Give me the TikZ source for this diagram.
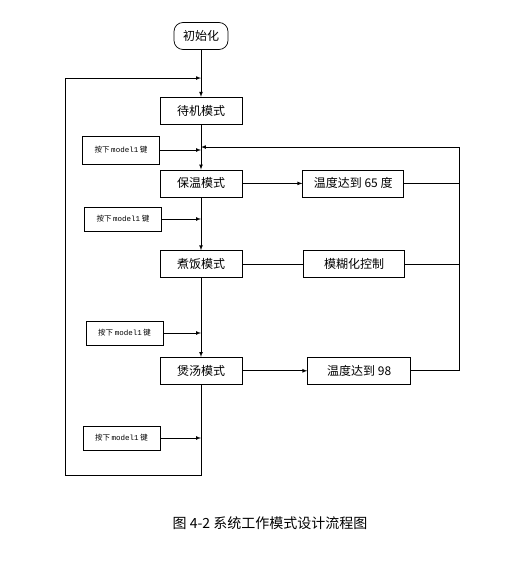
\documentclass[tikz,border=0pt]{standalone}
\usepackage{fontspec}
\setmainfont{Noto Sans CJK SC}
\setmonofont{Liberation Mono}
\usetikzlibrary{positioning, calc}

\begin{document}
\begin{tikzpicture}[x=1pt, y=1pt, line width=.7pt,
  state/.style={rectangle, draw, align=center, minimum width=82pt, minimum height=27pt, inner sep=2pt, font=\fontsize{12}{14}\selectfont},
  cond/.style={state, minimum width=101pt},
  keybox/.style={rectangle, draw, minimum width=77pt, minimum height=24pt, inner sep=2pt, font=\fontsize{7.5}{9}\selectfont},
  start/.style={state, rounded corners=9pt, minimum width=54pt}]

\useasboundingbox (0,0) rectangle (529,-575);

% STATES

\node[start] (init) at (201,-36) {初始化};

\node[state, below=47pt of init] (wait) {待机模式};

\node[state, below=45pt of wait] (warm) {保温模式};

\node[state, below=53pt of warm] (cook) {煮饭模式};

\node[state, below=79pt of cook] (soup) {煲汤模式};

% CONDITIONS

\node[cond, right=60pt of warm] (t65) {温度达到 65 度};

\node[cond, right=61pt of cook] (fuzzy) {模糊化控制};

\node[cond, minimum width=103pt, right=65pt of soup] (t98) {温度达到 98};

% KEYS

\node[keybox, minimum height=28pt] (k1) at (121,-150) {按下 \texttt{model1} 键};

\node[keybox] (k2) at (123,-219) {按下 \texttt{model1} 键};

\node[keybox] (k3) at (124.5,-333) {按下 \texttt{model1} 键};

\node[keybox] (k4) at (121.5,-438) {按下 \texttt{model1} 键};

\node[font=\fontsize{14}{16}\selectfont] (cap) at (270,-523) {图 4-2 系统工作模式设计流程图};

% FLOW

\draw[-latex] (init) -- (wait);
\draw[-latex] (wait) -- (warm);
\draw[-latex] (warm) -- (cook);
\draw[-latex] (cook) -- (soup);

\draw[-latex] (k1.east) -- (k1.east -| wait.south);
\draw[-latex] (k2.east) -- (k2.east -| warm.south);
\draw[-latex] (k3.east) -- (k3.east -| cook.south);
\draw[-latex] (k4.east) -- (k4.east -| soup.south);

\draw[-latex] (warm.east) -- (t65.west);
\draw         (cook.east) -- (fuzzy.west);
\draw[-latex] (soup.east) -- (t98.west);

% LOOPS

\coordinate (rx) at ($(t98.east) + (48,0)$);
\coordinate (lx) at (65,-475);

\draw         (t65.east) -- (t65.east -| rx);
\draw         (fuzzy.east) -- (fuzzy.east -| rx);
\draw[-latex] (t98.east) -- (rx) |- ($(wait.south)!.5!(warm.north)$);
\draw[-latex] (soup.south) |- (lx) |- ($(init.south)!.6!(wait.north)$);

\end{tikzpicture}
\end{document}
